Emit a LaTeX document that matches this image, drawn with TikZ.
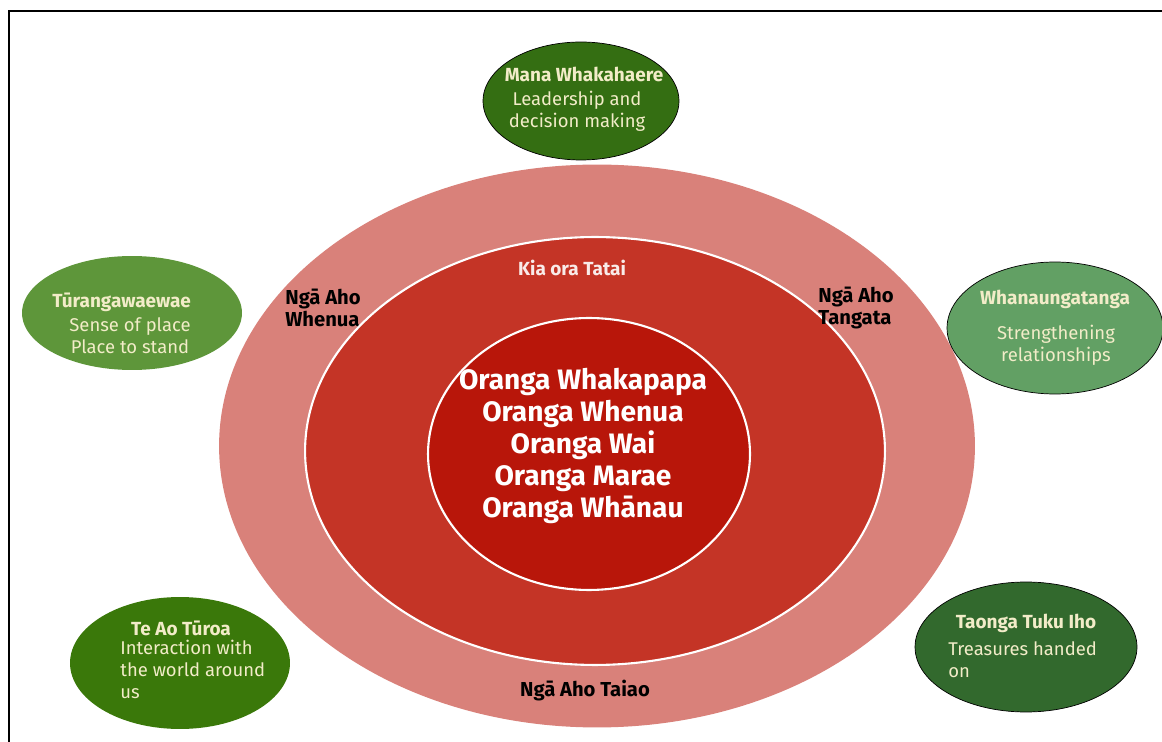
\documentclass[tikz,border=0pt]{standalone}
\usepackage{fontspec}
\setmainfont{Fira Sans}
\usepackage{tikz}
\usetikzlibrary{shapes.geometric,positioning}

\definecolor{ringout}{RGB}{217,129,122}
\definecolor{ringmid}{RGB}{196,52,38}
\definecolor{ringin}{RGB}{184,22,10}
\definecolor{gmana}{RGB}{52,110,18}
\definecolor{gturanga}{RGB}{94,150,58}
\definecolor{gwhanau}{RGB}{98,160,100}
\definecolor{gteao}{RGB}{58,120,10}
\definecolor{gtaonga}{RGB}{50,105,45}
\definecolor{cream}{RGB}{242,236,200}

\begin{document}
\begin{tikzpicture}[x=0.02cm, y=-0.02cm]
	\tikzstyle{every node} = [inner sep = 0pt]
	\tikzstyle{oval} = [ellipse, draw = black, line width = 0.4pt]
	\tikzstyle{ring} = [ellipse, draw = white, line width = 1.2pt]
	\tikzstyle{head} = [font = \fontsize{10.8}{12.5}\selectfont\bfseries, text = cream]
	\tikzstyle{desc} = [font = \fontsize{10.5}{12.5}\selectfont, text = cream]
	\tikzstyle{aho} = [font = \fontsize{11.5}{12.5}\selectfont\bfseries, text = black, align = left]
\useasboundingbox (0, 0) rectangle (1162, 742);
\coordinate (c0) at (9, 742);
\coordinate (c1) at (9, 11);
\coordinate (c2) at (1162, 11);
\draw[line width = 1.1pt] (c0) -- (c1) -- (c2);

% rings
\node[ellipse, fill = ringout, minimum width = 15.12cm, minimum height = 11.26cm] (out) at (597, 446) {};
\node[ring, fill = ringmid, minimum width = 11.6cm, minimum height = 8.56cm] (mid) at (595, 451) {};
\node[ring, fill = ringin, minimum width = 6.44cm, minimum height = 5.44cm] (in) at (589, 454) {};

\node[font = \fontsize{16}{18.3}\selectfont\bfseries, text = white, align = center] (core) at (583, 446)
	{Oranga Whakapapa\\Oranga Whenua\\Oranga Wai\\Oranga Marae\\Oranga Wh\=anau};
\node[head, text = white!90!ringmid] (kia) at (572, 268) {Kia ora Tatai};
\node[aho, anchor = west] (whenua) at (285, 308) {Ng\=a Aho\\Whenua};
\node[aho, anchor = west] (tangata) at (818, 308) {Ng\=a Aho\\Tangata};
\node[aho] (taiao) at (585, 691) {Ng\=a Aho Taiao};

% outer ovals
\node[oval, fill = gmana, minimum width = 3.92cm, minimum height = 2.36cm] (mana) at (581, 101) {};
\node[oval, draw = none, fill = gturanga, minimum width = 4.4cm, minimum height = 2.28cm] (turanga) at (132, 313) {};
\node[oval, fill = gwhanau, minimum width = 4.32cm, minimum height = 2.64cm] (whanau) at (1055, 328) {};
\node[oval, draw = none, fill = gteao, minimum width = 4.4cm, minimum height = 2.64cm] (teao) at (180, 663) {};
\node[oval, fill = gtaonga, minimum width = 4.44cm, minimum height = 2.6cm] (taonga) at (1026, 647) {};

\node[head] (mana1) at (584, 74) {Mana Whakahaere};
\node[desc, align = center] (mana2) at (577, 111) {Leadership and\\decision making};
\node[head, anchor = west] (tur1) at (52, 302) {T\=urangawaewae};
\node[desc, align = center] (tur2) at (130, 336) {Sense of place\\Place to stand};
\node[head] (wha1) at (1055, 299) {Whanaungatanga};
\node[desc, align = center] (wha2) at (1056, 345) {Strengthening\\relationships};
\node[head] (teao1) at (181, 628) {Te Ao T\=uroa};
\node[desc, align = left, anchor = north west] (teao2) at (120, 640) {Interaction with\\the world around\\us};
\node[head] (tao1) at (1026, 623) {Taonga Tuku Iho};
\node[desc, align = left, anchor = north west] (tao2) at (948, 641) {Treasures handed\\on};
\end{tikzpicture}
\end{document}
